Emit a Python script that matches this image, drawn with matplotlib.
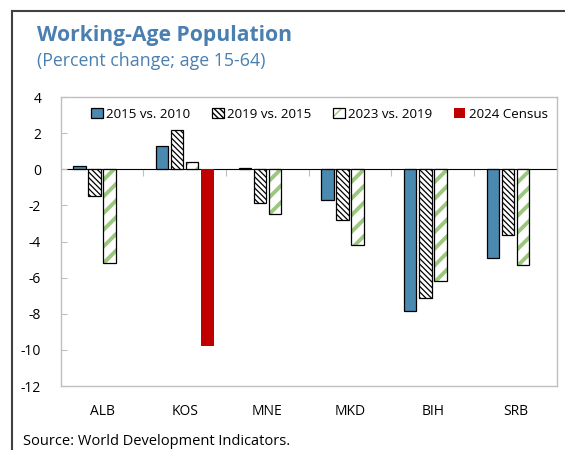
import matplotlib
matplotlib.use("Agg")
import matplotlib.pyplot as plt
import numpy as np
from matplotlib.legend_handler import HandlerTuple

plt.rcParams["font.family"] = ["Open Sans", "DejaVu Sans"]
plt.rcParams["axes.unicode_minus"] = False

countries = ["ALB", "KOS", "MNE", "MKD", "BIH", "SRB"]
series_names = ["2015 vs. 2010", "2019 vs. 2015", "2023 vs. 2019", "2024 Census"]
chg_2015 = [0.2, 1.3, 0.05, -1.7, -7.85, -4.9]
chg_2019 = [-1.5, 2.2, -1.85, -2.8, -7.1, -3.65]
chg_2023 = [-5.2, 0.4, -2.5, -4.2, -6.2, -5.3]
census_2024 = [np.nan, -9.8, np.nan, np.nan, np.nan, np.nan]
y_ticks = [4, 2, 0, -2, -4, -6, -8, -10, -12]

BLUE = "#4A89B0"
GREEN = "#9CC77E"
RED = "#C00000"
GREY = "#BFBFBF"
TITLE_BLUE = "#4A7FB0"

fig = plt.figure(figsize=(5.65, 4.5), dpi=100)
ax = fig.add_axes([0.1073, 0.1422, 0.8782, 0.6422])

x = np.arange(len(countries))
slot = 0.182
width = 0.152


def bars_with_lw(offset, vals, hatch_lw, **kw):
    plt.rcParams["hatch.linewidth"] = hatch_lw
    b = ax.bar(x + offset * slot, vals, width, **kw)
    for p in b:
        if hasattr(p, "set_hatch_linewidth"):
            p.set_hatch_linewidth(hatch_lw)
    return b


b1 = bars_with_lw(-1.5, chg_2015, 1.0, color=BLUE, edgecolor="black", linewidth=0.9, zorder=3)
b2 = bars_with_lw(-0.5, chg_2019, 0.9, facecolor="white", edgecolor="black",
                  hatch="\\\\\\\\\\\\", linewidth=0.9, zorder=3)
b3g = bars_with_lw(0.5, chg_2023, 2.8, facecolor="white", edgecolor=GREEN,
                   hatch="//", linewidth=0, zorder=3)
b3o = bars_with_lw(0.5, chg_2023, 1.0, facecolor="none", edgecolor="black", linewidth=0.9, zorder=4)
b4 = bars_with_lw(1.5, census_2024, 1.0, color=RED, linewidth=0, zorder=3)

ax.set_xlim(-0.5, len(countries) - 0.5)
ax.set_ylim(-12, 4)
ax.set_yticks(y_ticks)
ax.set_yticklabels([str(v) for v in y_ticks])
ax.set_xticks(x)
ax.set_xticklabels(countries)
ax.tick_params(axis="x", length=0, pad=13, labelsize=10)
ax.tick_params(axis="y", direction="in", length=4, color=GREY, pad=14, labelsize=10)
for s in ax.spines.values():
    s.set_color(GREY)
    s.set_linewidth(1.0)

# zero line with category separators
zero = ax.secondary_xaxis(0.75)
zero.set_xticks(np.arange(len(countries) - 1) + 0.5)
zero.set_xticklabels([])
zero.tick_params(direction="in", length=5, color=GREY, labelbottom=False, labeltop=False)
zero.spines["bottom"].set_color(GREY)
zero.spines["bottom"].set_linewidth(1.0)

leg = ax.legend([b1, b2, (b3g, b3o), b4], series_names,
                handler_map={tuple: HandlerTuple(ndivide=1)},
                loc="upper center", bbox_to_anchor=(0.522, 1.005), ncol=4,
                frameon=False, fontsize=9.6, handlelength=0.85, handleheight=0.85,
                handletextpad=0.25, columnspacing=1.65)

fig.text(0.065, 0.92, "Working-Age Population", color=TITLE_BLUE, fontsize=15.2,
         fontweight="bold", va="center")
fig.text(0.065, 0.864, "(Percent change; age 15-64)", color=TITLE_BLUE, fontsize=12.8,
         va="center")
fig.text(0.041, 0.003, "Source: World Development Indicators.", fontsize=10.5, va="bottom")

# outer frame (left and top edges)
fig.add_artist(plt.Line2D([0.021, 0.021], [0.0, 0.976], color="#404040", lw=1.5,
                          transform=fig.transFigure))
fig.add_artist(plt.Line2D([0.021, 1.0], [0.976, 0.976], color="#404040", lw=1.5,
                          transform=fig.transFigure))

fig.savefig("out.png", dpi=100)
